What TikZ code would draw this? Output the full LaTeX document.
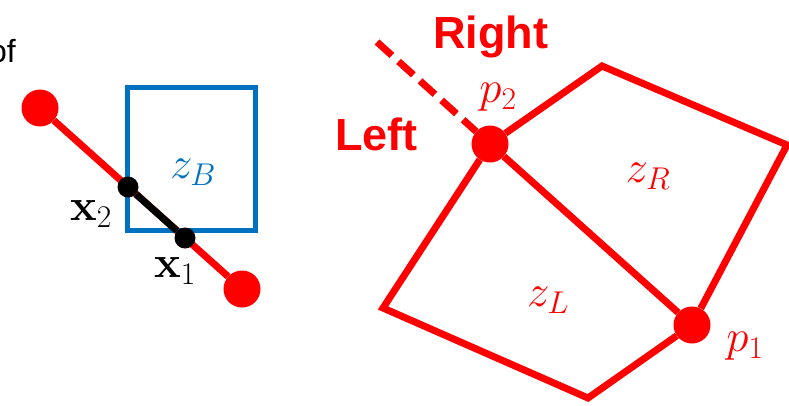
\RequirePackage{fix-cm}
\documentclass[tikz,border=0pt]{standalone}
\usepackage[no-math]{fontspec}
\setmainfont{Liberation Sans}
\usepackage{xcolor}
\usepackage{amsmath}
\usepackage{tikz}
\usetikzlibrary{positioning}
\definecolor{boxblue}{RGB}{0,112,192}

\begin{document}
\begin{tikzpicture}[
    x=1pt, y=-1pt,
    reddot/.style={circle, fill=red, inner sep=0pt, minimum size=37pt},
    blackdot/.style={circle, fill=black, inner sep=0pt, minimum size=21pt},
    edge/.style={red, line width=7pt},
    mathlbl/.style={inner sep=0pt, font=\fontsize{45}{50}\selectfont},
    sidelbl/.style={red, inner sep=0pt, font=\fontsize{45}{50}\selectfont\bfseries}
]
\useasboundingbox (0,0) rectangle (789,405);

% Left: segment through the box
\node[anchor=base east, inner sep=0pt, font=\fontsize{32}{36}\selectfont] (of) at (16,62) {of};
\node[reddot] (a) at (40,108) {};
\node[reddot] (b) at (242,289) {};
\draw[edge] (a) -- (b);
\node[draw=boxblue, line width=5pt, minimum width=128pt, minimum height=143.5pt] (box) at (191,158.75) {};
\node[mathlbl, text=boxblue] (zB) at (193,172) {$z_B$};
\node[blackdot] (x2) at (128,187) {};
\node[blackdot] (x1) at (185,238) {};
\draw[line width=7pt] (x2) -- (x1);
\node[mathlbl] (lx2) at (91,214) {$\mathbf{x}_2$};
\node[mathlbl] (lx1) at (175,271) {$\mathbf{x}_1$};

% Right: split polygon
\node[reddot] (p2) at (490,144) {};
\node[reddot] (p1) at (692,325) {};
\coordinate (top) at (602,66);
\coordinate (rgt) at (787,145);
\coordinate (bot) at (588,398);
\coordinate (lft) at (383,308);
\coordinate (tail) at (377,42);

\draw[edge, miter limit=4] (p2) -- (top) -- (rgt) -- (p1);
\draw[edge, miter limit=4] (p1) -- (bot) -- (lft) -- (p2);
\draw[edge] (p2) -- (p1);
\draw[edge, dash pattern=on 20pt off 9pt] (tail) -- (p2);

\node[sidelbl, anchor=base west] (right) at (433,48) {Right};
\node[sidelbl, anchor=base west] (left) at (335,150) {Left};
\node[mathlbl, text=red] (lp2) at (498,97) {$p_2$};
\node[mathlbl, text=red] (lp1) at (745,346) {$p_1$};
\node[mathlbl, text=red] (zR) at (648,176) {$z_R$};
\node[mathlbl, text=red] (zL) at (548,300) {$z_L$};
\end{tikzpicture}
\end{document}
